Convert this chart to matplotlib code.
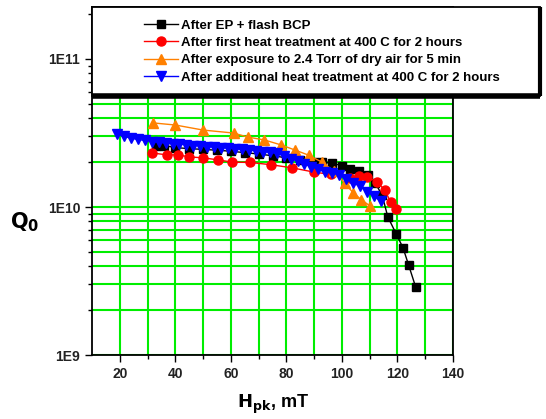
import numpy as np
import matplotlib
matplotlib.use('Agg')
import matplotlib.pyplot as plt
from matplotlib.patches import Rectangle
from matplotlib.ticker import FixedLocator, LogLocator, FuncFormatter, NullFormatter

plt.rcParams['font.family'] = ['Liberation Sans', 'DejaVu Sans']
plt.rcParams['font.weight'] = 'bold'

# 데이터 (Hpk [mT], Q0)
h_ep = [33, 36, 40, 45, 50, 55, 60, 65, 70, 75, 80, 85, 90, 93, 96.5, 100, 103,
        106, 109.5, 112, 114.5, 116.5, 119.5, 122, 124, 126.5]
q_ep = [2.6e10, 2.6e10, 2.52e10, 2.48e10, 2.45e10, 2.42e10, 2.38e10, 2.33e10, 2.28e10,
        2.22e10, 2.15e10, 2.08e10, 2.02e10, 2.0e10, 1.98e10, 1.9e10, 1.82e10,
        1.75e10, 1.65e10, 1.45e10, 1.2e10, 8.6e9, 6.6e9, 5.3e9, 4.06e9, 2.9e9]

h_heat1 = [31.5, 37, 41, 45, 50, 55.5, 60.5, 67, 74.5, 82, 90, 96, 103, 106, 109,
           112.5, 115.5, 117.5, 119.5]
q_heat1 = [2.32e10, 2.25e10, 2.25e10, 2.18e10, 2.15e10, 2.08e10, 2.01e10, 2.0e10,
           1.93e10, 1.84e10, 1.72e10, 1.66e10, 1.58e10, 1.62e10, 1.6e10,
           1.48e10, 1.3e10, 1.08e10, 9.7e9]

h_air = [32, 40, 50, 61, 66, 72, 78, 83, 88, 93, 97, 101, 104, 107, 110]
q_air = [3.7e10, 3.58e10, 3.31e10, 3.16e10, 2.97e10, 2.84e10, 2.63e10, 2.43e10,
         2.24e10, 2.0e10, 1.75e10, 1.45e10, 1.25e10, 1.12e10, 1.02e10]

h_heat2 = [19, 21.5, 24, 26.5, 29, 31.5, 34, 36.5, 39, 41.5, 44, 46.5, 49, 51.5, 54,
           56.5, 59, 61.5, 64, 66.5, 69, 71.5, 74, 76.5, 79, 81.5, 84, 86.5, 89,
           91.5, 94, 96.5, 99, 101.5, 104, 106.5, 109, 111.5, 114]
q_heat2 = [3.1e10, 3.0e10, 2.92e10, 2.86e10, 2.82e10, 2.77e10, 2.74e10, 2.7e10,
           2.68e10, 2.66e10, 2.64e10, 2.6e10, 2.6e10, 2.56e10, 2.54e10, 2.52e10,
           2.5e10, 2.47e10, 2.45e10, 2.43e10, 2.4e10, 2.37e10, 2.34e10, 2.3e10,
           2.22e10, 2.12e10, 2.04e10, 1.95e10, 1.87e10, 1.8e10, 1.72e10, 1.7e10,
           1.64e10, 1.55e10, 1.46e10, 1.38e10, 1.27e10, 1.18e10, 1.1e10]

labels = ['After EP + flash BCP',
          'After first heat treatment at 400 C for 2 hours',
          'After exposure to 2.4 Torr of dry air for 5 min',
          'After additional heat treatment at 400 C for 2 hours']

fig = plt.figure(figsize=(5.46, 4.19), dpi=100)
ax = fig.add_axes([0.1685, 0.1527, 0.6612, 0.8305])

ax.plot(h_ep, q_ep, color='black', marker='s', markersize=6, lw=1, label=labels[0], zorder=3)
ax.plot(h_heat1, q_heat1, color='#ff0000', marker='o', markersize=6.5, lw=1, label=labels[1], zorder=3)
ax.plot(h_air, q_air, color='#ff8000', marker='^', markersize=7, lw=1, label=labels[2], zorder=3)
ax.plot(h_heat2, q_heat2, color='#0000ff', marker='v', markersize=7, lw=1, label=labels[3], zorder=3)

ax.set_yscale('log')
ax.set_xlim(10, 140)
ax.set_ylim(1e9, 10 ** 11.351)

# 축 눈금
ax.xaxis.set_major_locator(FixedLocator([20, 40, 60, 80, 100, 120, 140]))
ax.xaxis.set_minor_locator(FixedLocator([30, 50, 70, 90, 110, 130]))
ax.yaxis.set_major_locator(LogLocator(base=10))
ax.yaxis.set_minor_locator(LogLocator(base=10, subs=np.arange(2, 10)))
ax.yaxis.set_major_formatter(FuncFormatter(lambda v, p: '1E%d' % round(np.log10(v))))
ax.yaxis.set_minor_formatter(NullFormatter())
ax.tick_params(axis='both', which='major', labelsize=10, length=5, width=1, labelcolor='#222222')
ax.tick_params(axis='both', which='minor', length=3, width=1)
ax.tick_params(axis='y', direction='out')
ax.tick_params(axis='x', direction='out')
for lab in ax.get_xticklabels() + ax.get_yticklabels():
    lab.set_fontweight('bold')

# 녹색 그리드
ax.grid(True, which='both', color='#00ee00', lw=1.5, zorder=1)
ax.set_axisbelow(True)
for s in ax.spines.values():
    s.set_linewidth(1.3)

# 범례 박스
box = Rectangle((0, 0.744), 1.241, 0.256, transform=ax.transAxes, facecolor='white',
                edgecolor='black', lw=1.3, clip_on=False, zorder=5)
ax.add_patch(box)
ax.plot([0, 1.241], [0.744, 0.744], transform=ax.transAxes, color='black', lw=4,
        clip_on=False, zorder=6, solid_capstyle='butt')
ax.plot([1.241, 1.241], [0.744, 1.0], transform=ax.transAxes, color='black', lw=3,
        clip_on=False, zorder=6, solid_capstyle='butt')

leg = ax.legend(loc='upper left', bbox_to_anchor=(0.125, 0.983), frameon=False,
                borderpad=0, handlelength=2.6, handletextpad=0.25,
                labelspacing=0.38, prop={'weight': 'bold', 'size': 9.5})
leg.set_zorder(7)

fig.text(25 / 546, 1 - 222 / 419, r'$\mathbf{Q_0}$', fontsize=15, ha='center', va='center')
fig.text(273 / 546, 1 - 404 / 419, r'$\mathbf{H_{pk}}$, mT', fontsize=13, ha='center',
         va='center', fontweight='bold')

fig.savefig('out.png', dpi=100)
